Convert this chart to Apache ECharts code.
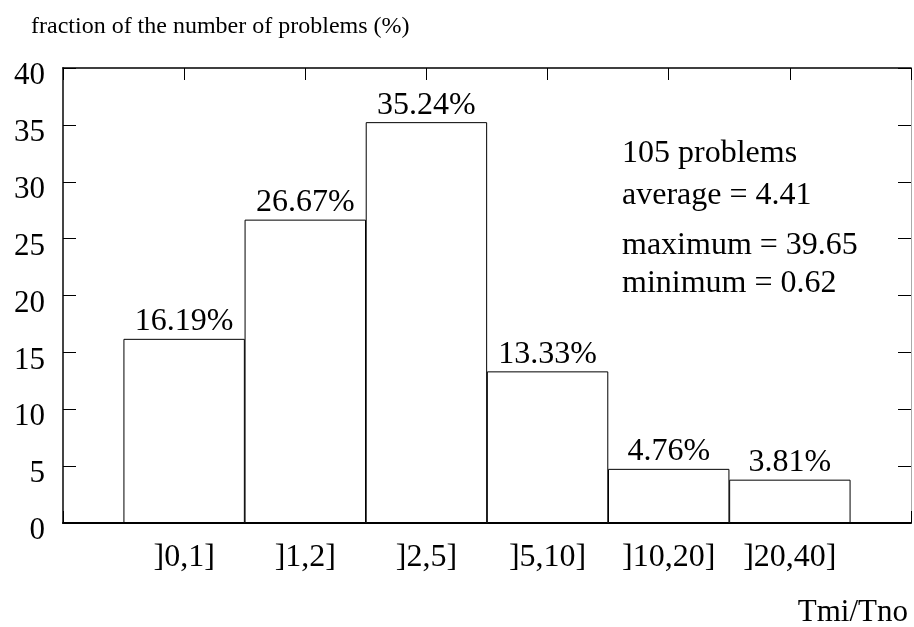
<!DOCTYPE html>
<html>
<head>
<meta charset="utf-8">
<script src="https://cdn.jsdelivr.net/npm/echarts@6/dist/echarts.min.js"></script>
<style>
html,body{margin:0;padding:0;background:#fff;}
#chart{width:914px;height:627px;}
</style>
</head>
<body>
<div id="chart"></div>
<script>
const categories = [']0,1]', ']1,2]', ']2,5]', ']5,10]', ']10,20]', ']20,40]'];
const values = [16.19, 26.67, 35.24, 13.33, 4.76, 3.81];
const yMin = 0, yMax = 40, yStep = 5;
const yTitle = 'fraction of the number of problems (%)';
const xTitle = 'Tmi/Tno';
const statLines = ['105 problems', 'average = 4.41', 'maximum = 39.65', 'minimum = 0.62'];

const FONT = '"Liberation Serif", "Times New Roman", serif';
const chart = echarts.init(document.getElementById('chart'), null, {renderer: 'canvas'});

const gridLeft = 63, gridRight = 1, gridTop = 68, gridBottom = 104;
const plotW = 914 - gridLeft - gridRight;
const slot = plotW / (categories.length + 1);

const xAxisBase = {
  type: 'value', min: 0, max: categories.length + 1, interval: 1,
  splitLine: {show: false},
  axisTick: {show: true, inside: true, length: 12, lineStyle: {color: '#000', width: 1}},
};
const yAxisBase = {
  type: 'value', min: yMin, max: yMax, interval: yStep,
  splitLine: {show: false},
  axisTick: {show: true, inside: true, length: 13, lineStyle: {color: '#000', width: 1}},
};

const statY = [153, 195, 245, 283];

chart.setOption({
  animation: false,
  backgroundColor: '#fff',
  grid: {left: gridLeft, right: gridRight, top: gridTop, bottom: gridBottom, containLabel: false},
  xAxis: [
    Object.assign({}, xAxisBase, {
      position: 'bottom',
      axisLine: {show: true, onZero: false, lineStyle: {color: '#000', width: 2}},
      axisLabel: {
        show: true, margin: 19, color: '#000', fontFamily: FONT, fontSize: 32,
        formatter: v => categories[v - 1] || ''
      }
    }),
    Object.assign({}, xAxisBase, {
      position: 'top',
      axisLine: {show: true, onZero: false, lineStyle: {color: '#000', width: 1.5}},
      axisLabel: {show: false}
    })
  ],
  yAxis: [
    Object.assign({}, yAxisBase, {
      position: 'left',
      axisLine: {show: true, onZero: false, lineStyle: {color: '#444', width: 2}},
      axisLabel: {
        show: true, margin: 18, color: '#000', fontFamily: FONT, fontSize: 31,
        verticalAlign: 'top', lineHeight: 16
      }
    }),
    Object.assign({}, yAxisBase, {
      position: 'right',
      axisLine: {show: true, onZero: false, lineStyle: {color: '#aaa', width: 1}},
      axisLabel: {show: false}
    })
  ],
  series: [{
    type: 'bar',
    xAxisIndex: 0, yAxisIndex: 0,
    barWidth: slot,
    data: values.map((v, i) => [i + 1, v]),
    itemStyle: {color: '#fff', borderColor: '#000', borderWidth: 1},
    label: {
      show: true, position: 'top', distance: 1, color: '#000',
      fontFamily: FONT, fontSize: 32,
      formatter: p => p.value[1].toFixed(2) + '%'
    }
  }],
  graphic: [
    {type: 'text', left: 31, top: 15, style: {text: yTitle, font: '24px ' + FONT, fill: '#000'}},
    {type: 'text', right: 6, top: 597, style: {text: xTitle, font: '31px ' + FONT, fill: '#000'}}
  ].concat(statLines.map((t, i) => ({
    type: 'text', left: 622, top: statY[i] - 15,
    style: {text: t, font: '32px ' + FONT, fill: '#000'}
  })))
});
</script>
</body>
</html>
